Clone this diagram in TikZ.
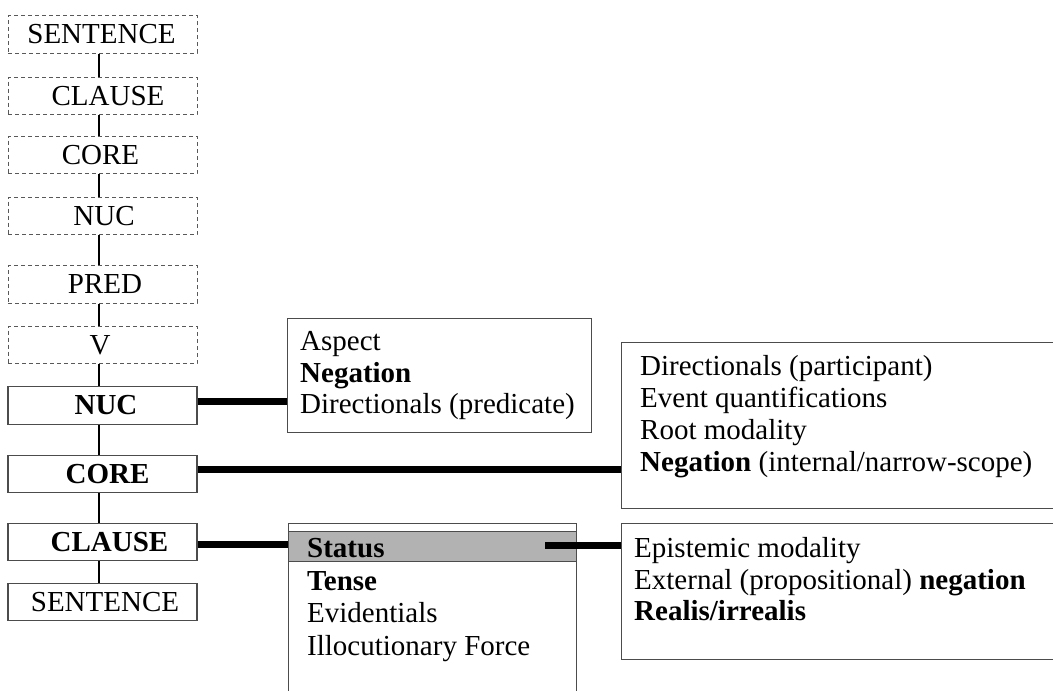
\documentclass[tikz,border=0pt]{standalone}
\usepackage{fontspec}
\setmainfont{Liberation Serif}
\begin{document}
\begin{tikzpicture}[x=1pt,y=1pt,
  every node/.style={font=\fontsize{29}{30}\selectfont},
  layerbox/.style={rectangle, minimum width=189pt, minimum height=37.5pt, inner sep=0pt},
  dashedbox/.style={layerbox, draw=black!65, line width=0.9pt, dash pattern=on 4pt off 3pt},
  solidbox/.style={layerbox, draw=black!70, line width=1.3pt, font=\fontsize{29}{30}\selectfont\bfseries},
  plainbox/.style={layerbox, draw=black!70, line width=1.3pt},
  opbox/.style={draw=black!70, line width=1.3pt, fill=white, anchor=north west, inner sep=0pt},
  item/.style={anchor=base west, inner sep=0pt},
  link/.style={line width=2pt, black},
  bar/.style={line width=7pt, black},
]
\useasboundingbox (0,0) rectangle (1053,691);
\clip (0,0) rectangle (1053,691);

% projection of the layered structure (dashed)
\node[dashedbox] (d1) at (102.5,656.5) {SENTENCE\hspace*{2pt}};
\node[dashedbox] (d2) at (102.5,595)   {\hspace*{11pt}CLAUSE};
\node[dashedbox] (d3) at (102.5,536)   {CORE\hspace*{4pt}};
\node[dashedbox] (d4) at (102.5,475)   {\hspace*{3pt}NUC};
\node[dashedbox] (d5) at (102.5,406.5) {\hspace*{5pt}PRED};
\node[dashedbox] (d6) at (102.5,346)   {V\hspace*{5pt}};

% operator projection
\node[solidbox] (s1) at (102.5,285.5) {\hspace*{7pt}NUC};
\node[solidbox] (s2) at (102.5,217)   {\hspace*{10pt}CORE};
\node[solidbox] (s3) at (102.5,149)   {\hspace*{14pt}CLAUSE};
\node[plainbox] (s4) at (102.5,89)    {\hspace*{5pt}SENTENCE};

% vertical links
\foreach \a/\b in {d1/d2,d2/d3,d3/d4,d4/d5,d5/d6,d6/s1,s1/s2,s2/s3,s3/s4}
  \draw[link] ([xshift=-3.5pt]\a.south) -- ([xshift=-3.5pt]\b.north);

% operator boxes
\node[opbox, minimum width=304pt, minimum height=114pt] (asp) at (287,373) {};
\node[opbox, minimum width=440pt, minimum height=166pt] (cor) at (621,349) {};
\node[opbox, minimum width=288pt, minimum height=180pt] (cla) at (288,168) {};
\node[opbox, fill=black!30, minimum width=288pt, minimum height=30pt] (sta) at (288,160) {};
\node[opbox, minimum width=440pt, minimum height=136pt] (epi) at (621,168) {};

% nucleus operators
\node[item] (a1) at (300,340) {Aspect};
\node[item] (a2) at (300,308) {\bfseries Negation};
\node[item] (a3) at (300,277) {Directionals (predicate)};

% core operators
\node[item] (c1) at (640,315) {Directionals (participant)};
\node[item] (c2) at (640,283) {Event quantifications};
\node[item] (c3) at (640,251) {Root modality};
\node[item] (c4) at (640,219) {\textbf{Negation} (internal/narrow-scope)};

% clause operators
\node[item] (t1) at (307,133) {\bfseries Status};
\node[item] (t2) at (307,100) {\bfseries Tense};
\node[item] (t3) at (307,68)  {Evidentials};
\node[item] (t4) at (307,35)  {Illocutionary Force};

% status subtypes
\node[item] (e1) at (634,133) {Epistemic modality};
\node[item] (e2) at (634,101) {External (propositional) \textbf{negation}};
\node[item] (e3) at (634,70)  {\bfseries Realis/irrealis};

% heavy links from layers to their operators
\draw[bar] ([yshift=3.5pt]s1.east) -- ([yshift=3.5pt]s1.east -| asp.west);
\draw[bar] ([yshift=4pt]s2.east) -- ([yshift=4pt]s2.east -| cor.west);
\draw[bar] ([yshift=-3pt]s3.east) -- ([yshift=-3pt]s3.east -| cla.west);
\coordinate (stx) at (545,145.5);
\draw[bar] (stx) -- (stx -| epi.west);
\end{tikzpicture}
\end{document}
